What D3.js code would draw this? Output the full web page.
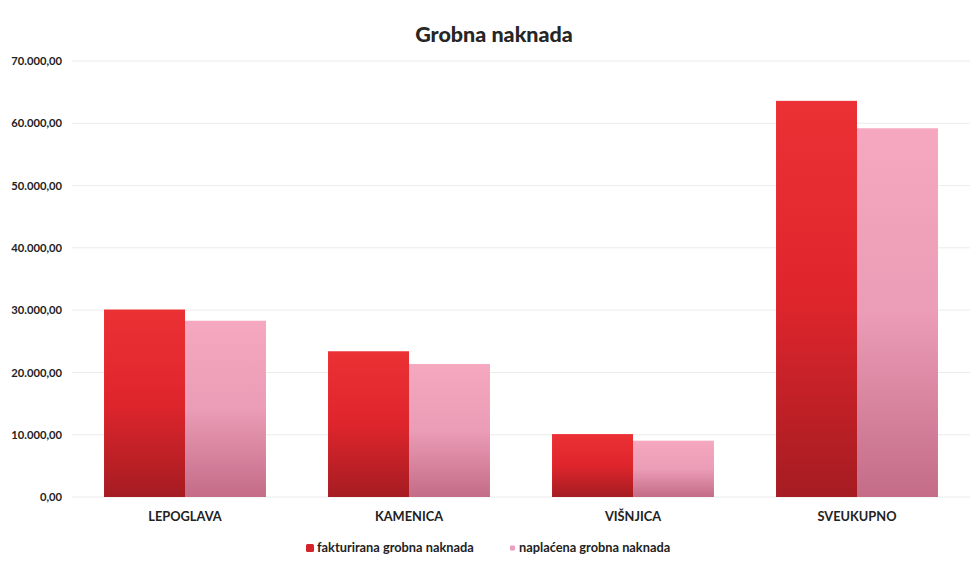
<!DOCTYPE html>
<html>
<head>
<meta charset="utf-8">
<script src="https://cdn.jsdelivr.net/npm/d3@7"></script>
<style>
body{margin:0;background:#fff;}
text{font-family:Lato,"Open Sans",sans-serif;}
</style>
</head>
<body>
<svg id="c" width="974" height="565"></svg>
<script>
const categories = ["LEPOGLAVA","KAMENICA","VIŠNJICA","SVEUKUPNO"];
const seriesNames = ["fakturirana grobna naknada","naplaćena grobna naknada"];
const fakturirana = [30100, 23400, 10100, 63600];
const naplacena = [28300, 21350, 9040, 59200];
const yTicks = [0,10000,20000,30000,40000,50000,60000,70000];
const title = "Grobna naknada";

const svg = d3.select("#c");
const y = d3.scaleLinear().domain([0,70000]).range([497,61]);
const x0 = d3.scaleBand().domain(categories).range([73,969]).paddingInner(0.277).paddingOuter(0.1385);
const x1 = d3.scaleBand().domain([0,1]).range([0,x0.bandwidth()]);

const defs = svg.append("defs");
const g1 = defs.append("linearGradient").attr("id","gr").attr("x1",0).attr("y1",0).attr("x2",0).attr("y2",1);
g1.append("stop").attr("offset",0).attr("stop-color","#ec3135");
g1.append("stop").attr("offset",0.5).attr("stop-color","#df252c");
g1.append("stop").attr("offset",1).attr("stop-color","#a51c22");
const g2 = defs.append("linearGradient").attr("id","gp").attr("x1",0).attr("y1",0).attr("x2",0).attr("y2",1);
g2.append("stop").attr("offset",0).attr("stop-color","#f6a8c0");
g2.append("stop").attr("offset",0.5).attr("stop-color","#eb9cb6");
g2.append("stop").attr("offset",1).attr("stop-color","#c46c88");

const nf = v => d3.format(",.2f")(v).replace(/,/g," ").replace(".",",").replace(/ /g,".");
svg.append("g").selectAll("line").data(yTicks).join("line")
  .attr("x1",72).attr("x2",970).attr("y1",d=>y(d)).attr("y2",d=>y(d))
  .attr("stroke","#ececec").attr("stroke-width",1);

const yAxis = d3.axisLeft(y).tickValues(yTicks).tickSize(0).tickPadding(0).tickFormat(nf);
const ya = svg.append("g").attr("transform","translate(62,0)").call(yAxis);
ya.select(".domain").remove();
ya.selectAll("text").attr("font-family","Lato, sans-serif").attr("font-size",11.2).attr("font-weight","bold").attr("fill","#222");

const data = categories.map((c,i)=>({c, v:[fakturirana[i], naplacena[i]]}));
const grp = svg.append("g").selectAll("g").data(data).join("g").attr("transform",d=>`translate(${x0(d.c)},0)`);
grp.selectAll("rect").data(d=>d.v.map((v,k)=>({v,k}))).join("rect")
  .attr("x",d=>x1(d.k)).attr("width",x1.bandwidth())
  .attr("y",d=>y(d.v)).attr("height",d=>y(0)-y(d.v))
  .attr("fill",d=>d.k===0?"url(#gr)":"url(#gp)");

const xAxis = d3.axisBottom(x0).tickSize(0).tickPadding(0);
const xa = svg.append("g").attr("transform","translate(0,512)").call(xAxis);
xa.select(".domain").remove();
xa.selectAll("text").attr("font-family","Lato, sans-serif").attr("font-size",12.8).attr("font-weight","bold").attr("fill","#222");

svg.append("text").attr("x",494).attr("y",42).attr("text-anchor","middle")
  .attr("font-size",21.5).attr("font-weight","900").attr("fill","#262626").text(title);

const leg = svg.append("g");
leg.append("rect").attr("x",306).attr("y",544).attr("width",8).attr("height",8).attr("rx",1.5).attr("fill","#d3232b");
leg.append("text").attr("x",317).attr("y",552).attr("font-size",12.8).attr("font-weight","bold").attr("fill","#222").text(seriesNames[0]);
leg.append("rect").attr("x",510).attr("y",545.5).attr("width",5).attr("height",5).attr("rx",1).attr("fill","#ec9ec0");
leg.append("text").attr("x",519).attr("y",552).attr("font-size",12.8).attr("font-weight","bold").attr("fill","#222").text(seriesNames[1]);
</script>
</body>
</html>
